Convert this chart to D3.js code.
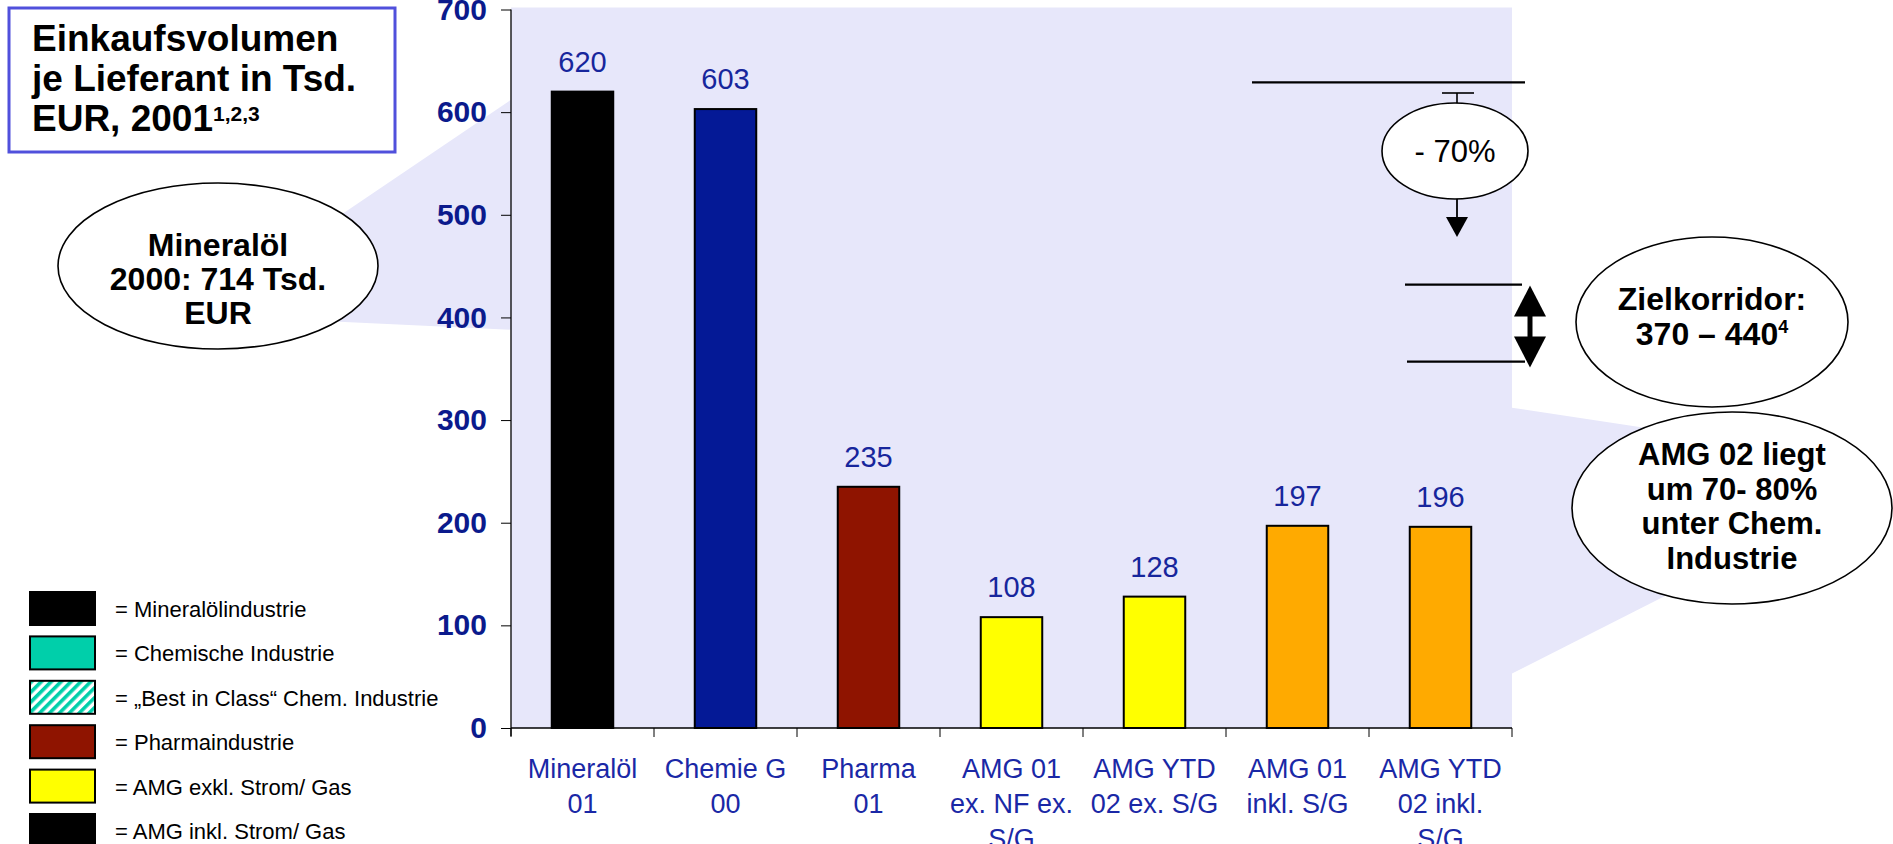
<!DOCTYPE html>
<html>
<head>
<meta charset="utf-8">
<script src="https://cdn.jsdelivr.net/npm/d3@7"></script>
<style>
  body { margin: 0; background: #fff; }
  svg { display: block; font-family: "Liberation Sans", Arial, sans-serif; }
</style>
</head>
<body>
<script>
// chart data
var categories = [
  ["Mineralöl", "01"],
  ["Chemie G", "00"],
  ["Pharma", "01"],
  ["AMG 01", "ex. NF ex.", "S/G"],
  ["AMG YTD", "02 ex. S/G"],
  ["AMG 01", "inkl. S/G"],
  ["AMG YTD", "02 inkl.", "S/G"]
];
var values = [620, 603, 235, 108, 128, 197, 196];
var barColors = ["#000000", "#041996", "#8f1400", "#ffff00", "#ffff00", "#ffaa00", "#ffaa00"];
var yTicks = [0, 100, 200, 300, 400, 500, 600, 700];

var legendLabels = ["= Mineralölindustrie", "= Chemische Industrie", "= \u201EBest in Class\u201C Chem. Industrie",
  "= Pharmaindustrie", "= AMG exkl. Strom/ Gas", "= AMG inkl. Strom/ Gas"];
var legendFills = ["#000000", "#00cfaa", "url(#hatch)", "#8f1400", "#ffff00", "#000000"];

// annotation levels (in chart units)
var topLine = 629;
var corridor = [432, 357];

var width = 1893, height = 844;
var svg = d3.select('body').append('svg').attr('width', width).attr('height', height);

var defs = svg.append('defs');
var pat = defs.append('pattern').attr('id', 'hatch')
  .attr('patternUnits', 'userSpaceOnUse').attr('width', 7).attr('height', 7)
  .attr('patternTransform', 'rotate(45)');
pat.append('rect').attr('width', 7).attr('height', 7).attr('fill', '#fff');
pat.append('rect').attr('width', 3.6).attr('height', 7).attr('fill', '#00cfaa');

var x = d3.scaleBand().domain(d3.range(categories.length))
  .range([511, 1512]).paddingInner(0.57).paddingOuter(0.285);
var y = d3.scaleLinear().domain([0, 700]).range([728, 9.5]);

var lav = '#e7e7fa';

// plot background
svg.append('rect')
  .attr('x', 511).attr('y', y(700) - 2)
  .attr('width', 1512 - 511).attr('height', y(0) - y(700) + 2)
  .attr('fill', lav);

// callout wedges
svg.append('path').attr('fill', lav)
  .attr('d', 'M511,' + y(612) + ' L218,298 L218,316 L511,' + y(388) + ' Z');
svg.append('path').attr('fill', lav)
  .attr('d', 'M1512,' + y(312) + ' L1732,441 L1732,562 L1512,' + y(53) + ' Z');

// bars
svg.selectAll('rect.bar').data(values).enter().append('rect')
  .attr('class', 'bar')
  .attr('x', function(d, i){ return x(i); })
  .attr('y', function(d){ return y(d); })
  .attr('width', x.bandwidth())
  .attr('height', function(d){ return y(0) - y(d); })
  .attr('fill', function(d, i){ return barColors[i]; })
  .attr('stroke', '#000').attr('stroke-width', 2);

// value labels
svg.selectAll('text.val').data(values).enter().append('text')
  .attr('class', 'val')
  .attr('x', function(d, i){ return x(i) + x.bandwidth() / 2; })
  .attr('y', function(d){ return y(d) - 20; })
  .attr('text-anchor', 'middle')
  .attr('font-size', 29).attr('fill', '#17269c')
  .text(function(d){ return d; });

// y axis
var yAxis = svg.append('g').attr('transform', 'translate(511,0)')
  .call(d3.axisLeft(y).tickValues(yTicks).tickSize(10).tickSizeOuter(0).tickPadding(14));
yAxis.select('.domain').remove();
yAxis.selectAll('line').attr('stroke', '#000');
yAxis.selectAll('text').attr('font-size', 30).attr('font-weight', 'bold')
  .attr('fill', '#0b1a8c').attr('font-family', '"Liberation Sans", Arial, sans-serif');
svg.append('line').attr('x1', 511).attr('x2', 511).attr('y1', y(700)).attr('y2', y(0) + 8)
  .attr('stroke', '#000').attr('stroke-width', 1.3);

// x axis
svg.append('line').attr('x1', 511).attr('x2', 1512).attr('y1', y(0)).attr('y2', y(0))
  .attr('stroke', '#000').attr('stroke-width', 1.3);
var tickPos = d3.range(categories.length + 1).map(function(i){ return 511 + i * x.step(); });
svg.selectAll('line.xt').data(tickPos).enter().append('line')
  .attr('class', 'xt')
  .attr('x1', function(d){ return d; }).attr('x2', function(d){ return d; })
  .attr('y1', y(0)).attr('y2', y(0) + 9)
  .attr('stroke', '#000');

var catG = svg.selectAll('text.cat').data(categories).enter().append('text')
  .attr('class', 'cat')
  .attr('text-anchor', 'middle')
  .attr('font-size', 27).attr('fill', '#1a28a6');
catG.selectAll('tspan').data(function(d, i){ return d.map(function(s){ return {s: s, i: i}; }); })
  .enter().append('tspan')
  .attr('x', function(d){ return x(d.i) + x.bandwidth() / 2; })
  .attr('y', function(d, j){ return 778 + j * 35; })
  .text(function(d){ return d.s; });

// title box
svg.append('rect').attr('x', 9).attr('y', 8).attr('width', 386).attr('height', 144)
  .attr('fill', '#fff').attr('stroke', '#5050dc').attr('stroke-width', 3);
var title = svg.append('text').attr('font-size', 37).attr('font-weight', 'bold').attr('fill', '#000');
title.append('tspan').attr('x', 32).attr('y', 51).text('Einkaufsvolumen');
title.append('tspan').attr('x', 32).attr('y', 91).text('je Lieferant in Tsd.');
title.append('tspan').attr('x', 32).attr('y', 131).text('EUR, 2001');
title.append('tspan').attr('dy', -10).attr('font-size', 21).text('1,2,3');

// helper: ellipse with centred lines
function bubble(cx, cy, rx, ry, lines, y0, dy, size, weight) {
  svg.append('ellipse').attr('cx', cx).attr('cy', cy).attr('rx', rx).attr('ry', ry)
    .attr('fill', '#fff').attr('stroke', '#000').attr('stroke-width', 1.6);
  var t = svg.append('text').attr('text-anchor', 'middle').attr('font-size', size)
    .attr('font-weight', weight).attr('fill', '#000');
  lines.forEach(function(l, i){
    t.append('tspan').attr('x', cx).attr('y', y0 + i * dy).text(l);
  });
  return t;
}

bubble(218, 266, 160, 83, ['Mineralöl', '2000: 714 Tsd.', 'EUR'], 256, 34, 32, 'bold');

// -70% annotation
svg.append('line').attr('x1', 1252).attr('x2', 1525).attr('y1', y(topLine)).attr('y2', y(topLine))
  .attr('stroke', '#000').attr('stroke-width', 2.2);
svg.append('line').attr('x1', 1442).attr('x2', 1474).attr('y1', 93).attr('y2', 93)
  .attr('stroke', '#000').attr('stroke-width', 1.6);
svg.append('line').attr('x1', 1457).attr('x2', 1457).attr('y1', 93).attr('y2', 104)
  .attr('stroke', '#000').attr('stroke-width', 1.6);
svg.append('line').attr('x1', 1457).attr('x2', 1457).attr('y1', 198).attr('y2', 218)
  .attr('stroke', '#000').attr('stroke-width', 1.8);
svg.append('path').attr('d', 'M1446,217 L1468,217 L1457,237 Z').attr('fill', '#000');
bubble(1455, 151, 73, 48, ['- 70%'], 162, 0, 31, 'normal');

// target corridor
svg.append('line').attr('x1', 1405).attr('x2', 1522).attr('y1', y(corridor[0])).attr('y2', y(corridor[0]))
  .attr('stroke', '#000').attr('stroke-width', 2.2);
svg.append('line').attr('x1', 1407).attr('x2', 1525).attr('y1', y(corridor[1])).attr('y2', y(corridor[1]))
  .attr('stroke', '#000').attr('stroke-width', 2.2);
var ay0 = y(corridor[0]) + 1, ay1 = y(corridor[1]) + 6;
svg.append('line').attr('x1', 1530).attr('x2', 1530).attr('y1', ay0 + 20).attr('y2', ay1 - 20)
  .attr('stroke', '#000').attr('stroke-width', 5);
svg.append('path').attr('fill', '#000')
  .attr('d', 'M1530,' + ay0 + ' L1546,' + (ay0 + 31) + ' L1514,' + (ay0 + 31) + ' Z');
svg.append('path').attr('fill', '#000')
  .attr('d', 'M1530,' + ay1 + ' L1546,' + (ay1 - 31) + ' L1514,' + (ay1 - 31) + ' Z');

var zk = bubble(1712, 322, 136, 85, ['Zielkorridor:', '370 \u2013 440'], 310, 35, 32, 'bold');
zk.select('tspan:last-child').append('tspan').attr('dy', -12).attr('font-size', 18).text('4');

bubble(1732, 508, 160, 96, ['AMG 02 liegt', 'um 70- 80%', 'unter Chem.', 'Industrie'], 465, 34.6, 31, 'bold');

// legend
var leg = svg.selectAll('g.leg').data(legendLabels).enter().append('g')
  .attr('class', 'leg')
  .attr('transform', function(d, i){ return 'translate(0,' + (592 + i * 44.4) + ')'; });
leg.append('rect').attr('x', 30).attr('y', 0).attr('width', 65).attr('height', 33)
  .attr('fill', function(d, i){ return legendFills[i]; })
  .attr('stroke', '#000').attr('stroke-width', 2);
leg.append('text').attr('x', 115).attr('y', 25).attr('font-size', 22).attr('fill', '#000')
  .text(function(d){ return d; });
</script>
</body>
</html>
